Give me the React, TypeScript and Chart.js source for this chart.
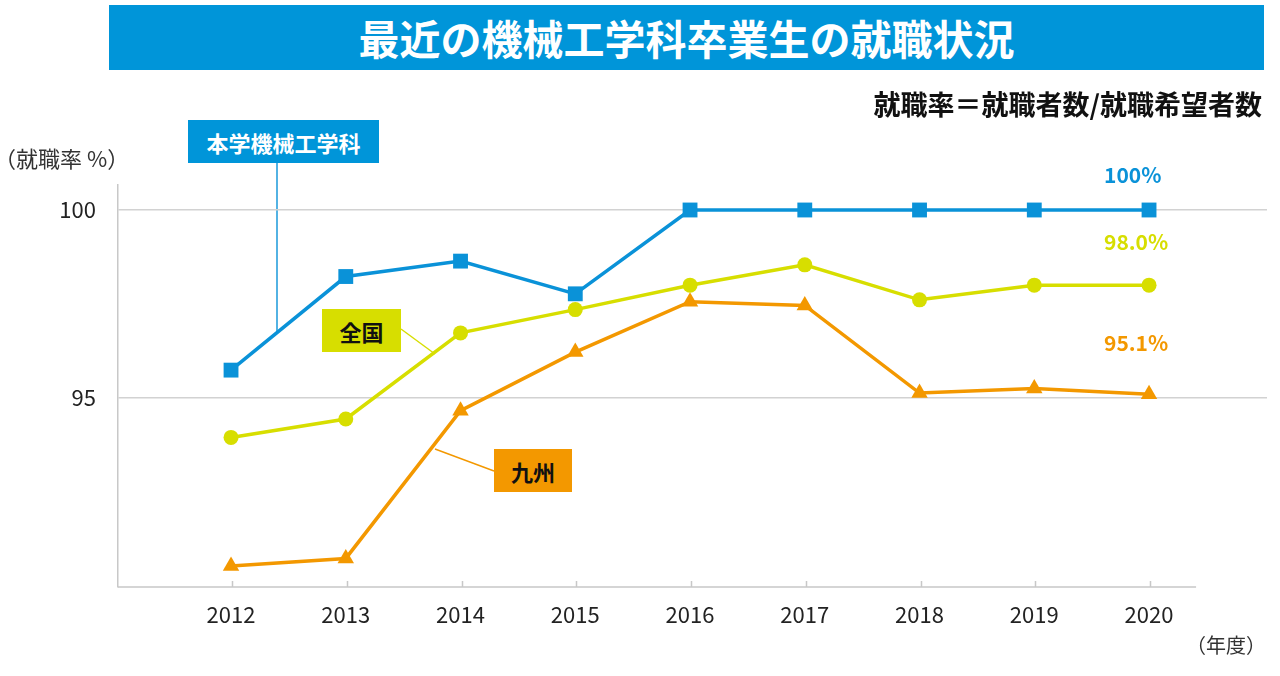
import React, { useEffect, useRef } from "react";
import { Chart, registerables } from "chart.js";

Chart.register(...registerables);

const years = [2012, 2013, 2014, 2015, 2016, 2017, 2018, 2019, 2020];
const ownDept = [95.74, 98.23, 98.64, 97.77, 100, 100, 100, 100, 100];
const national = [93.95, 94.44, 96.73, 97.35, 98.0, 98.54, 97.61, 98.0, 98.0];
const kyushu = [90.53, 90.73, 94.66, 96.22, 97.56, 97.46, 95.13, 95.25, 95.1];
const yTickValues = [95, 100];

const BLUE = "#0A92D8";
const YELLOW = "#D7DE00";
const ORANGE = "#F39800";
const FONT = '"Noto Sans CJK JP", "Noto Sans", sans-serif';

const X_MIN = 2011.015;
const X_MAX = 2021.028;
const AXIS_END = 2020.41;

const bottomAxisPlugin = {
  id: "bottomAxis",
  beforeDatasetsDraw(chart: any) {
    const { ctx, chartArea, scales } = chart;
    const x = scales.x;
    ctx.save();
    ctx.strokeStyle = "#c8c8c8";
    ctx.lineWidth = 1.5;
    ctx.beginPath();
    ctx.moveTo(chartArea.left, chartArea.bottom);
    ctx.lineTo(x.getPixelForValue(AXIS_END), chartArea.bottom);
    for (const yr of years) {
      const px = Math.round(x.getPixelForValue(yr)) + 1.5;
      ctx.moveTo(px, chartArea.bottom);
      ctx.lineTo(px, chartArea.bottom - 6);
    }
    ctx.stroke();
    ctx.restore();
  },
};

function ChartCanvas() {
  const ref = useRef<HTMLCanvasElement>(null);
  useEffect(() => {
    if (!ref.current) return;
    const mk = (arr: number[]) => years.map((yr, i) => ({ x: yr, y: arr[i] }));
    const chart = new Chart(ref.current, {
      type: "line",
      data: {
        datasets: [
          {
            label: "本学機械工学科",
            data: mk(ownDept),
            borderColor: BLUE,
            backgroundColor: BLUE,
            borderWidth: 3.5,
            pointStyle: "rect",
            pointRadius: 10.5,
            pointBorderWidth: 0,
            clip: false as any,
          },
          {
            label: "全国",
            data: mk(national),
            borderColor: YELLOW,
            backgroundColor: YELLOW,
            borderWidth: 3.5,
            pointStyle: "circle",
            pointRadius: 7.5,
            pointBorderWidth: 0,
            clip: false as any,
          },
          {
            label: "九州",
            data: mk(kyushu),
            borderColor: ORANGE,
            backgroundColor: ORANGE,
            borderWidth: 3.5,
            pointStyle: "triangle",
            pointRadius: 9.5,
            pointBorderWidth: 0,
            clip: false as any,
          },
        ],
      },
      options: {
        animation: false,
        responsive: false,
        devicePixelRatio: 1,
        layout: { padding: { top: 185, right: 13, left: 0, bottom: 0 } },
        plugins: {
          legend: { display: false },
          tooltip: { enabled: false },
        },
        scales: {
          x: {
            type: "linear",
            min: X_MIN,
            max: X_MAX,
            afterBuildTicks: (s: any) => {
              s.ticks = years.map((v) => ({ value: v }));
            },
            afterFit: (s: any) => {
              s.height = 89;
            },
            grid: { display: false, drawTicks: false },
            border: { display: false },
            ticks: {
              padding: 14,
              color: "#222",
              font: { family: FONT, size: 22 },
              callback: (v: any) => String(v),
              maxRotation: 0,
              autoSkip: false,
            },
          },
          y: {
            min: 89.97,
            max: 100.665,
            afterBuildTicks: (s: any) => {
              s.ticks = yTickValues.map((v) => ({ value: v }));
            },
            afterFit: (s: any) => {
              s.width = 118;
            },
            grid: { color: "#d2d2d2", lineWidth: 1.5, drawTicks: false },
            border: { display: true, color: "#c8c8c8", width: 1.5 },
            ticks: {
              padding: 22,
              color: "#222",
              font: { family: FONT, size: 22 },
              callback: (v: any) => String(v),
            },
          },
        },
      },
      plugins: [bottomAxisPlugin],
    });
    return () => chart.destroy();
  }, []);
  return (
    <canvas
      ref={ref}
      width={1280}
      height={676}
      style={{ position: "absolute", left: 0, top: 0, width: 1280, height: 676 }}
    />
  );
}

const boxStyle = (
  left: number,
  top: number,
  width: number,
  height: number,
  bg: string,
  color: string
): React.CSSProperties => ({
  position: "absolute",
  left,
  top,
  width,
  height,
  background: bg,
  color,
  display: "flex",
  alignItems: "center",
  justifyContent: "center",
  fontFamily: FONT,
  fontWeight: 700,
  fontSize: 22,
  lineHeight: 1,
});

const textStyle = (
  left: number,
  centerY: number,
  size: number,
  color: string,
  weight: number
): React.CSSProperties => ({
  position: "absolute",
  left,
  top: centerY - size / 2,
  height: size,
  lineHeight: `${size}px`,
  fontFamily: FONT,
  fontSize: size,
  fontWeight: weight,
  color,
  whiteSpace: "nowrap",
});

export default function App() {
  return (
    <div
      style={{
        position: "fixed",
        left: 0,
        top: 0,
        width: 1280,
        height: 676,
        background: "#fff",
        overflow: "hidden",
      }}
    >
      {/* connectors */}
      <svg width={1280} height={676} style={{ position: "absolute", left: 0, top: 0 }}>
        <line x1={277} y1={163} x2={277} y2={334} stroke={BLUE} strokeWidth={1.4} />
        <line x1={401} y1={329} x2={435} y2={354} stroke={YELLOW} strokeWidth={1.4} />
        <line x1={494} y1={471} x2={435} y2={449} stroke={ORANGE} strokeWidth={1.4} />
      </svg>
      <ChartCanvas />
      {/* title */}
      <div
        style={{
          position: "absolute",
          left: 109,
          top: 5,
          width: 1155,
          height: 65,
          background: "#0095D9",
          color: "#fff",
          display: "flex",
          alignItems: "center",
          justifyContent: "center",
          fontFamily: FONT,
          fontWeight: 700,
          fontSize: 41,
          lineHeight: 1,
        }}
      >
        最近の機械工学科卒業生の就職状況
      </div>
      <div
        style={{
          position: "absolute",
          left: 0,
          width: 1262,
          top: 90,
          height: 27,
          lineHeight: "27px",
          textAlign: "right",
          fontFamily: FONT,
          fontWeight: 700,
          fontSize: 27,
          color: "#111",
          whiteSpace: "nowrap",
        }}
      >
        就職率＝就職者数/就職希望者数
      </div>
      <div style={textStyle(-6, 157, 22, "#333", 400)}>（就職率 %）</div>
      <div style={textStyle(1186, 645, 20, "#333", 400)}>（年度）</div>
      <div style={boxStyle(188, 120, 191, 43, "#0095D9", "#fff")}>本学機械工学科</div>
      <div style={boxStyle(322, 309, 79, 43, YELLOW, "#111")}>全国</div>
      <div style={boxStyle(494, 449, 78, 43, ORANGE, "#111")}>九州</div>
      <div style={textStyle(1104, 174, 21, BLUE, 700)}>100%</div>
      <div style={textStyle(1104, 241, 21, YELLOW, 700)}>98.0%</div>
      <div style={textStyle(1104, 342, 21, ORANGE, 700)}>95.1%</div>
    </div>
  );
}
